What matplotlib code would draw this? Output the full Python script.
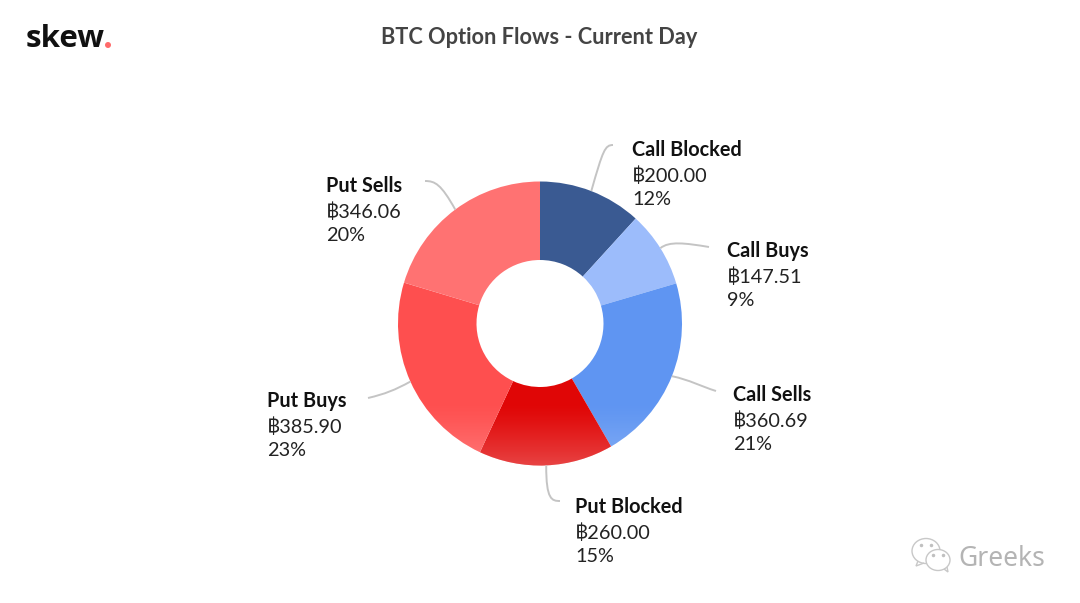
import numpy as np
import matplotlib
matplotlib.use("Agg")
import matplotlib.pyplot as plt
from matplotlib.patches import Ellipse, PathPatch, Polygon
from matplotlib.path import Path

names = ["Call Blocked", "Call Buys", "Call Sells", "Put Blocked", "Put Buys", "Put Sells"]
flows = [200.00, 147.51, 360.69, 260.00, 385.90, 346.06]
percents = ["12%", "9%", "21%", "15%", "23%", "20%"]
colors = ["#3a5a92", "#9cbcfb", "#5f95f2", "#e00606", "#fe4f4f", "#ff7272"]

# label top-left corner, then leader line control and end point (pixels)
label_pos = [(632, 138), (727, 239), (733, 383), (575, 495), (267, 389), (326, 174)]
leaders = [
    ((603, 150), (605, 145), (613, 145)),
    ((669, 241), (685, 243), (709, 247)),
    ((690, 380), (700, 386), (716, 391)),
    ((546, 500), (552, 501), (560, 501)),
    ((395, 390), (385, 394), (368, 398)),
    ((441, 184), (435, 181), (425, 181)),
]

H = 603
cx, cy = 540, H - 323.5
R, r = 142, 63.5

plt.rcParams["font.family"] = ["Lato", "DejaVu Sans"]
fig = plt.figure(figsize=(10.8, 6.03), dpi=100)
ax = fig.add_axes([0, 0, 1, 1])

wedges, _ = ax.pie(flows, colors=colors, startangle=90, counterclock=False,
                   radius=R, center=(cx, cy),
                   wedgeprops=dict(width=R - r, edgecolor="none", linewidth=0))

# pale fade along the bottom of the ring
grad = np.linspace(0, 1, 128).reshape(-1, 1)
grad = np.clip((grad - 0.78) / 0.22, 0, 1) ** 1.3
rgba = np.ones((128, 1, 4))
rgba[:, :, 3] = grad * 0.24
for w in wedges[2:5]:
    im = ax.imshow(rgba, extent=(cx - R, cx + R, cy - R, cy + R), origin="upper",
                   aspect="auto", zorder=3, interpolation="bilinear")
    im.set_clip_path(w)
ax.set_xlim(0, 1080)
ax.set_ylim(0, H)
ax.set_aspect("equal")
ax.axis("off")

for i, w in enumerate(wedges):
    a = np.radians((w.theta1 + w.theta2) / 2)
    start = (cx + R * np.cos(a), cy + R * np.sin(a))
    c1, c2, end = leaders[i]
    pts = [start, (c1[0], H - c1[1]), (c2[0], H - c2[1]), (end[0], H - end[1])]
    ax.add_patch(PathPatch(Path(pts, [Path.MOVETO, Path.CURVE4, Path.CURVE4, Path.CURVE4]),
                           fill=False, edgecolor="#c4c4c4", linewidth=1.4, zorder=1))
    x, y = label_pos[i]
    ax.text(x, H - y - 12.3, names[i], fontsize=14.3, fontweight="bold", color="#111111", va="center")
    ax.text(x, H - y - 37.6, "\u0e3f%.2f" % flows[i], fontsize=14.3, color="#222222", va="center")
    ax.text(x, H - y - 61.2, percents[i], fontsize=14.3, color="#222222", va="center")

ax.text(539.5, H - 37.5, "BTC Option Flows - Current Day", fontsize=15.65, fontweight="bold",
        color="#444444", ha="center", va="center")

# logo
ax.text(26, H - 47, "skew", fontsize=22.5, fontweight="bold", family="Open Sans", color="#111111", va="baseline")
ax.add_patch(Ellipse((108, H - 45), 6, 6, facecolor="#ff6b6b", edgecolor="none"))

# watermark
ax.text(958, H - 559, "Greeks", fontsize=19, color="#b4b4b4", family="Noto Sans", va="center")
for ex, ey, ew, eh in [(926, 551, 28, 25), (938, 560, 24, 21)]:
    ax.add_patch(Ellipse((ex, H - ey), ew, eh, facecolor="white", edgecolor="#c8c8c8", linewidth=1))
ax.add_patch(Polygon([(918, H - 561), (916, H - 566), (924, H - 563)], closed=False, fill=False, edgecolor="#c8c8c8", linewidth=1))
ax.add_patch(Polygon([(944, H - 569), (948, H - 572), (947, H - 567)], closed=False, fill=False, edgecolor="#c8c8c8", linewidth=1))
ax.plot([921, 931, 933, 943], [H - 545, H - 545, H - 555, H - 555], ls="none", marker="o", ms=1.5, color="#c0c0c0")

fig.savefig("out.png", dpi=100, facecolor="white")
